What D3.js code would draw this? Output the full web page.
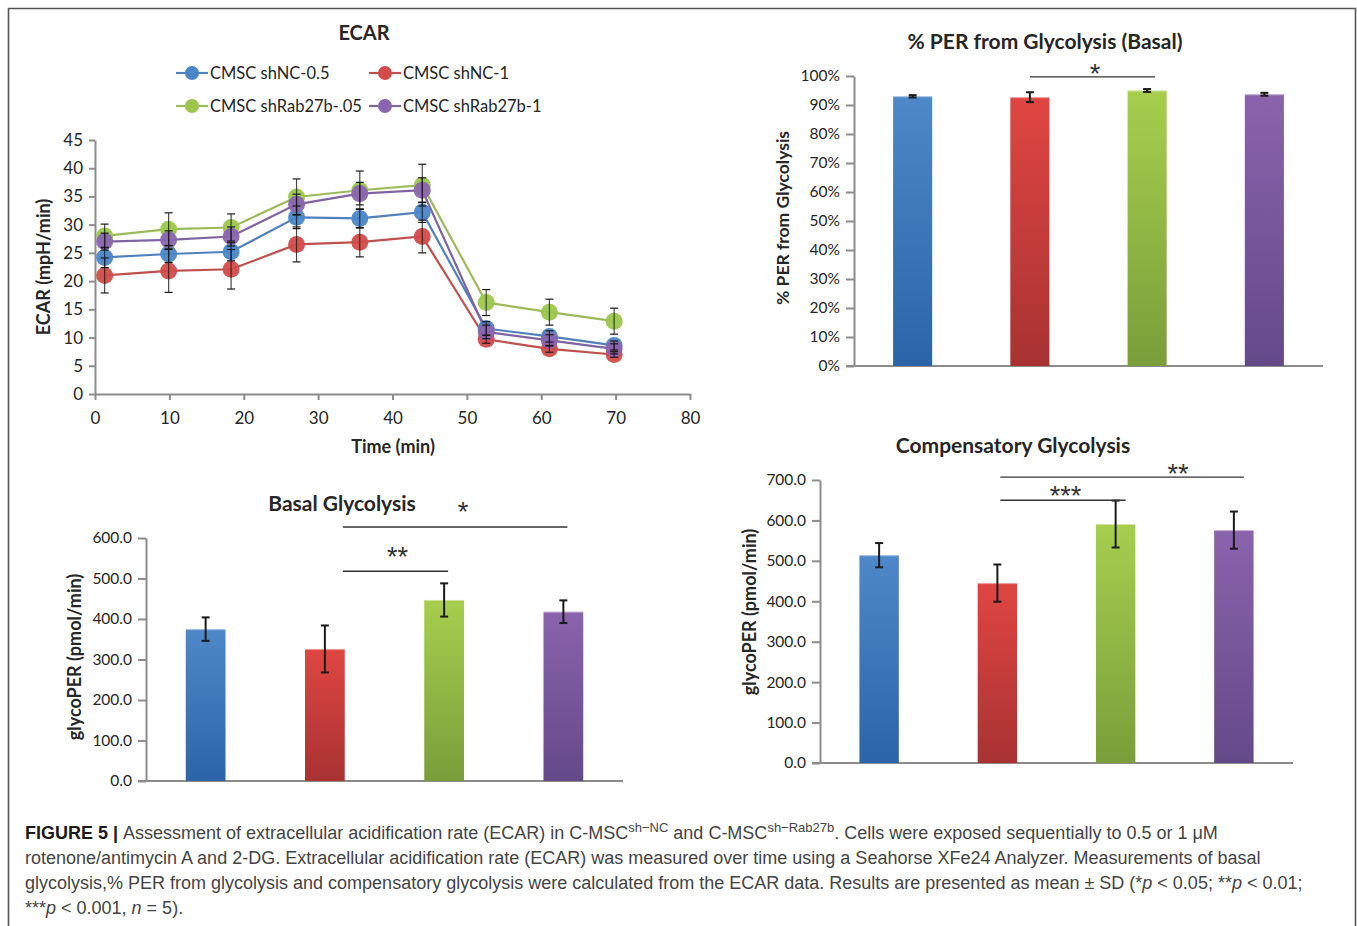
<!DOCTYPE html>
<html>
<head>
<meta charset="utf-8">
<script src="https://cdn.jsdelivr.net/npm/d3@7"></script>
<style>
  html, body { margin: 0; padding: 0; background: #fff; }
  svg { display: block; }
</style>
</head>
<body>
<svg id="fig" width="1357" height="926"></svg>
<script>
// ---------------- DATA ----------------
const seriesNames = ["CMSC shNC-0.5", "CMSC shNC-1", "CMSC shRab27b-.05", "CMSC shRab27b-1"];
const timePoints = [1.3, 9.9, 18.3, 27.1, 35.6, 44.0, 52.6, 61.1, 69.8];
const ecarShNC05 = [24.2, 24.8, 25.2, 31.3, 31.1, 32.2, 11.6, 10.2, 8.6];
const ecarShNC1 = [21.0, 21.8, 22.1, 26.5, 26.9, 27.9, 9.7, 8.0, 7.0];
const ecarShRab05 = [28.0, 29.2, 29.5, 34.9, 36.1, 37.0, 16.2, 14.5, 12.9];
const ecarShRab1 = [27.0, 27.3, 27.9, 33.6, 35.5, 36.1, 11.0, 9.5, 8.0];
const sdShNC05 = [1.8, 1.5, 1.6, 2.0, 1.7, 1.8, 1.2, 1.0, 0.8];
const sdShNC1 = [3.1, 3.8, 3.5, 3.1, 2.6, 2.9, 0.7, 0.6, 0.5];
const sdShRab05 = [2.1, 2.9, 2.4, 3.2, 3.4, 3.7, 2.3, 2.3, 2.3];
const sdShRab1 = [1.5, 1.6, 1.7, 1.8, 2.0, 2.2, 1.2, 1.0, 0.9];
const ecarYTicks = [0, 5, 10, 15, 20, 25, 30, 35, 40, 45];
const ecarXTicks = [0, 10, 20, 30, 40, 50, 60, 70, 80];

const perValues = [0.930, 0.927, 0.950, 0.937];
const perSd = [0.004, 0.017, 0.005, 0.005];
const perTicks = [0, 0.1, 0.2, 0.3, 0.4, 0.5, 0.6, 0.7, 0.8, 0.9, 1.0];

const basalValues = [375, 326, 447, 418];
const basalSd = [29, 58, 41, 28];
const basalTicks = [0, 100, 200, 300, 400, 500, 600];

const compValues = [514, 445, 591, 576];
const compSd = [30, 46, 58, 46];
const compTicks = [0, 100, 200, 300, 400, 500, 600, 700];

// significance annotations
const perSig = [{ from: 1, to: 2, level: 0.997, label: "*", labelLevel: 1.028, labelFrac: 0.52 }];
const basalSig = [
  { from: 1, to: 2, level: 518, label: "**", labelLevel: 568, labelFrac: 0.52 },
  { from: 1, to: 3, level: 627, label: "*", labelLevel: 681, labelFrac: 0.535 }
];
const compSig = [
  { from: 1, to: 2, level: 650, label: "***", labelLevel: 675, labelFrac: 0.52 },
  { from: 1, to: 3, level: 707, label: "**", labelLevel: 731, labelFrac: 0.73 }
];

// ---------------- STYLE ----------------
const lineColors = ["#4f81bd", "#c0504d", "#9bbb59", "#8064a2"];
const markerColors = ["#4a86c8", "#d14b48", "#9cc74c", "#8a64b0"];
const barTop = ["#4f88c8", "#e04642", "#a8ce4e", "#8a63ad"];
const barBottom = ["#2b65a8", "#a83232", "#799e3a", "#644989"];
const FONT = "Lato, 'Open Sans', sans-serif";
const axisColor = "#8c8c8c";
const textColor = "#262626";

const svg = d3.select("#fig");
svg.append("rect").attr("x", 0).attr("y", 0).attr("width", 1357).attr("height", 926).attr("fill", "#fff");
svg.append("path").attr("d", "M8.5,940 L8.5,8.5 L1355.5,8.5 L1355.5,940")
  .attr("fill", "none").attr("stroke", "#555").attr("stroke-width", 1.6);

const defs = svg.append("defs");
barTop.forEach((c, i) => {
  const g = defs.append("linearGradient").attr("id", "bg" + i)
    .attr("x1", 0).attr("y1", 0).attr("x2", 0).attr("y2", 1);
  g.append("stop").attr("offset", "0%").attr("stop-color", c);
  g.append("stop").attr("offset", "100%").attr("stop-color", barBottom[i]);
});

function styleAxis(g) {
  g.select(".domain").attr("stroke", axisColor).attr("stroke-width", 2);
  g.selectAll(".tick line").attr("stroke", axisColor).attr("stroke-width", 2);
  g.selectAll(".tick text").attr("fill", textColor).style("font-family", FONT);
}

// ---------------- ECAR LINE CHART ----------------
(function () {
  const x = d3.scaleLinear().domain([0, 80]).range([95, 690]);
  const y = d3.scaleLinear().domain([0, 45]).range([394, 140]);
  const g = svg.append("g");

  const ya = g.append("g").attr("transform", `translate(${x(0)},0)`)
    .call(d3.axisLeft(y).tickValues(ecarYTicks).tickSize(6).tickSizeOuter(0).tickPadding(6));
  ya.selectAll(".tick text").style("font-size", "17px");
  styleAxis(ya);
  const xa = g.append("g").attr("transform", `translate(0,${y(0)})`)
    .call(d3.axisBottom(x).tickValues(ecarXTicks).tickSize(6).tickSizeOuter(0).tickPadding(12));
  xa.selectAll(".tick text").style("font-size", "17px");
  styleAxis(xa);

  const all = [ecarShNC05, ecarShNC1, ecarShRab05, ecarShRab1];
  const sds = [sdShNC05, sdShNC1, sdShRab05, sdShRab1];
  const line = d3.line().x((d, i) => x(timePoints[i])).y(d => y(d));
  all.forEach((vals, s) => {
    g.append("path").datum(vals).attr("d", line).attr("fill", "none")
      .attr("stroke", lineColors[s]).attr("stroke-width", 2.2);
  });
  all.forEach((vals, s) => {
    g.append("g").selectAll("circle").data(vals).join("circle")
      .attr("cx", (d, i) => x(timePoints[i])).attr("cy", d => y(d)).attr("r", 8.5)
      .attr("fill", markerColors[s]).attr("fill-opacity", 0.95);
  });
  all.forEach((vals, s) => {
    const eg = g.append("g").attr("stroke", "#1a1a1a").attr("stroke-width", 1.2);
    vals.forEach((v, i) => {
      const cx = x(timePoints[i]);
      const y1 = y(v - sds[s][i]), y2 = y(v + sds[s][i]);
      eg.append("line").attr("x1", cx).attr("x2", cx).attr("y1", y1).attr("y2", y2).attr("stroke-opacity", 0.8);
      eg.append("line").attr("x1", cx - 4).attr("x2", cx + 4).attr("y1", y1).attr("y2", y1);
      eg.append("line").attr("x1", cx - 4).attr("x2", cx + 4).attr("y1", y2).attr("y2", y2);
    });
  });

  g.append("text").attr("x", 364).attr("y", 40).attr("text-anchor", "middle")
    .style("font-family", FONT).style("font-weight", "bold").style("font-size", "20px")
    .attr("fill", textColor).text("ECAR");
  g.append("text").attr("x", 393).attr("y", 453).attr("text-anchor", "middle")
    .style("font-family", FONT).style("font-weight", "bold").style("font-size", "18px")
    .attr("fill", textColor).text("Time (min)");
  g.append("text").attr("transform", "translate(50,267) rotate(-90)").attr("text-anchor", "middle")
    .style("font-family", FONT).style("font-weight", "bold").style("font-size", "18px")
    .attr("fill", textColor).text("ECAR (mpH/min)");

  // legend
  const legendPos = [[176, 73], [369, 73], [176, 106], [369, 106]];
  seriesNames.forEach((name, s) => {
    const [lx, ly] = legendPos[s];
    g.append("line").attr("x1", lx).attr("x2", lx + 32).attr("y1", ly).attr("y2", ly)
      .attr("stroke", lineColors[s]).attr("stroke-width", 2.2);
    g.append("circle").attr("cx", lx + 16).attr("cy", ly).attr("r", 7).attr("fill", markerColors[s]);
    g.append("text").attr("x", lx + 34).attr("y", ly).attr("dominant-baseline", "central")
      .style("font-family", FONT).style("font-size", "16.5px").attr("fill", textColor).text(name);
  });
})();

// ---------------- BAR CHART helper ----------------
function barChart(opts) {
  const x = d3.scaleBand().domain(d3.range(opts.values.length)).range(opts.xRange).padding(0);
  const y = d3.scaleLinear().domain(opts.yDomain).range(opts.yRange);
  const g = svg.append("g");
  const bw = x.bandwidth() / 3;

  g.append("line").attr("x1", opts.xRange[0] - 8).attr("x2", opts.xRange[1])
    .attr("y1", y(0)).attr("y2", y(0)).attr("stroke", axisColor).attr("stroke-width", 2);
  const ya = g.append("g").attr("transform", `translate(${opts.xRange[0]},0)`)
    .call(d3.axisLeft(y).tickValues(opts.ticks).tickFormat(opts.fmt).tickSize(8).tickSizeOuter(0).tickPadding(6));
  ya.selectAll(".tick text").style("font-size", opts.tickFont || "15.5px");
  styleAxis(ya);

  g.selectAll("rect.bar").data(opts.values).join("rect").attr("class", "bar")
    .attr("x", (d, i) => x(i) + x.bandwidth() / 2 - bw / 2)
    .attr("width", bw)
    .attr("y", d => y(d)).attr("height", d => y(0) - y(d))
    .attr("fill", (d, i) => `url(#bg${i})`);
  g.selectAll("line.top").data(opts.values).join("line").attr("class", "top")
    .attr("x1", (d, i) => x(i) + x.bandwidth() / 2 - bw / 2)
    .attr("x2", (d, i) => x(i) + x.bandwidth() / 2 + bw / 2)
    .attr("y1", d => y(d) + 0.5).attr("y2", d => y(d) + 0.5)
    .attr("stroke", "#fff").attr("stroke-opacity", 0.45).attr("stroke-width", 1);

  const eg = g.append("g").attr("stroke", "#1a1a1a").attr("stroke-width", 2);
  opts.values.forEach((v, i) => {
    const cx = x(i) + x.bandwidth() / 2;
    const y1 = y(v - opts.sd[i]), y2 = y(v + opts.sd[i]);
    eg.append("line").attr("x1", cx).attr("x2", cx).attr("y1", y1).attr("y2", y2);
    eg.append("line").attr("x1", cx - 4).attr("x2", cx + 4).attr("y1", y1).attr("y2", y1);
    eg.append("line").attr("x1", cx - 4).attr("x2", cx + 4).attr("y1", y2).attr("y2", y2);
  });

  opts.sig.forEach(s => {
    const x1 = x(s.from) + x.bandwidth() / 2 + (opts.sigStartOff || 0);
    const x2 = x(s.to) + x.bandwidth() / 2 + (opts.sigEndOff || 0);
    g.append("line").attr("x1", x1).attr("x2", x2).attr("y1", y(s.level)).attr("y2", y(s.level))
      .attr("stroke", "#333").attr("stroke-width", 1.4);
    const lx = x1 + (x2 - x1) * s.labelFrac;
    g.append("text").attr("x", lx).attr("y", y(s.labelLevel)).attr("dy", "0.57em").attr("text-anchor", "middle")
      .style("font-family", "'Liberation Sans', Arial, sans-serif").style("font-size", "27px")
      .attr("fill", "#333").text(s.label);
  });

  g.append("text").attr("x", opts.titlePos[0]).attr("y", opts.titlePos[1]).attr("text-anchor", "middle")
    .style("font-family", FONT).style("font-weight", "bold").style("font-size", "21px")
    .attr("fill", textColor).text(opts.title);
  g.append("text").attr("transform", `translate(${opts.yTitlePos[0]},${opts.yTitlePos[1]}) rotate(-90)`)
    .attr("text-anchor", "middle")
    .style("font-family", FONT).style("font-weight", "bold").style("font-size", opts.yTitleFont || "18px")
    .attr("fill", textColor).text(opts.yTitle);
  return { x, y };
}

barChart({
  values: perValues, sd: perSd, xRange: [854, 1323], yDomain: [0, 1], yRange: [366, 76],
  ticks: perTicks, fmt: d3.format(".0%"), sig: perSig, sigStartOff: 0, sigEndOff: 8,
  title: "% PER from Glycolysis (Basal)", titlePos: [1045, 49],
  yTitle: "% PER from Glycolysis", yTitlePos: [789, 218], yTitleFont: "17.5px"
});

barChart({
  values: basalValues, sd: basalSd, xRange: [146, 623], yDomain: [0, 600], yRange: [781, 538],
  ticks: basalTicks, fmt: d3.format(".1f"), sig: basalSig, sigStartOff: 18, sigEndOff: 4,
  title: "Basal Glycolysis", titlePos: [342, 511],
  yTitle: "glycoPER (pmol/min)", yTitlePos: [81, 657]
});

barChart({
  values: compValues, sd: compSd, xRange: [820, 1293], yDomain: [0, 700], yRange: [763, 480],
  ticks: compTicks, fmt: d3.format(".1f"), sig: compSig, sigStartOff: 3, sigEndOff: 10,
  title: "Compensatory Glycolysis", titlePos: [1013, 453],
  yTitle: "glycoPER (pmol/min)", yTitlePos: [756, 612]
});

// ---------------- CAPTION ----------------
(function () {
  const cf = "'Liberation Sans', Arial, Helvetica, sans-serif";
  const size = 18;
  const cap = svg.append("g").style("font-family", cf).style("font-size", size + "px").attr("fill", "#444");
  const x0 = 25;
  const l1 = cap.append("text").attr("x", x0).attr("y", 839);
  l1.append("tspan").style("font-weight", "bold").attr("fill", "#1a1a1a").text("FIGURE 5 | ");
  l1.append("tspan").text("Assessment of extracellular acidification rate (ECAR) in C-MSC");
  l1.append("tspan").attr("dy", -7).style("font-size", "13px").text("sh\u2212NC");
  l1.append("tspan").attr("dy", 7).text(" and C-MSC");
  l1.append("tspan").attr("dy", -7).style("font-size", "13px").text("sh\u2212Rab27b");
  l1.append("tspan").attr("dy", 7).text(". Cells were exposed sequentially to 0.5 or 1 \u03bcM");
  cap.append("text").attr("x", x0).attr("y", 864)
    .text("rotenone/antimycin A and 2-DG. Extracellular acidification rate (ECAR) was measured over time using a Seahorse XFe24 Analyzer. Measurements of basal");
  const l3 = cap.append("text").attr("x", x0).attr("y", 889);
  l3.append("tspan").text("glycolysis,% PER from glycolysis and compensatory glycolysis were calculated from the ECAR data. Results are presented as mean \u00b1 SD (*");
  l3.append("tspan").style("font-style", "italic").text("p");
  l3.append("tspan").text(" < 0.05; **");
  l3.append("tspan").style("font-style", "italic").text("p");
  l3.append("tspan").text(" < 0.01;");
  const l4 = cap.append("text").attr("x", x0).attr("y", 914);
  l4.append("tspan").text("***");
  l4.append("tspan").style("font-style", "italic").text("p");
  l4.append("tspan").text(" < 0.001, ");
  l4.append("tspan").style("font-style", "italic").text("n");
  l4.append("tspan").text(" = 5).");
})();
</script>
</body>
</html>
